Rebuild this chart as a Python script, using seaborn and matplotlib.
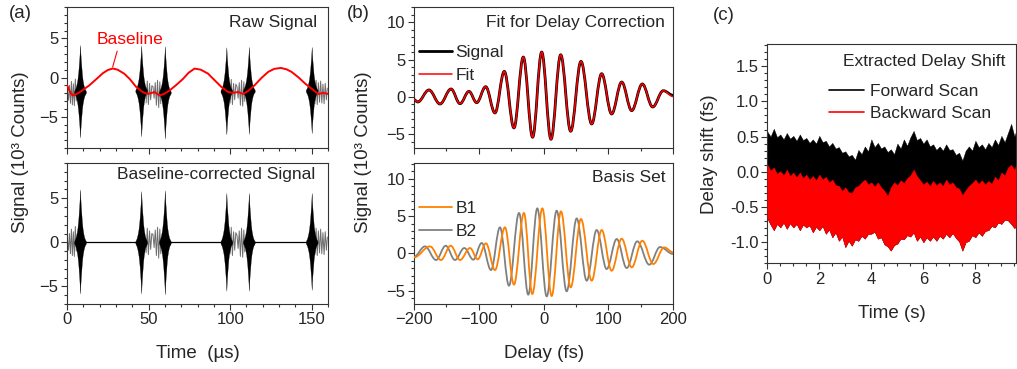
import numpy as np
import matplotlib
matplotlib.use("Agg")
import matplotlib.pyplot as plt
import seaborn as sns
from matplotlib.path import Path
from matplotlib.patches import PathPatch
from matplotlib.lines import Line2D
from matplotlib.ticker import MultipleLocator, FormatStrFormatter

# ---------------- Panel (a) data ----------------
baseline_t = [0, 1.5, 3.4, 6, 9, 13.7, 18, 22, 25, 28, 31, 35, 38.5, 42.4, 46, 49, 51.5,
              53.7, 56.7, 59.5, 62.9, 67, 71, 74.5, 78.2, 82, 86.4, 90.5, 94.6, 98.7,
              101.8, 104.9, 108, 111, 115.1, 119, 123.3, 127, 131.1, 134.5, 137.7, 142,
              145.9, 151, 154, 157.1, 160]
baseline_y = [-0.95, -1.7, -2.3, -2.1, -1.7, -1.0, -0.2, 0.55, 0.95, 1.15, 1.0, 0.5, -0.2,
              -1.2, -1.8, -2.1, -2.0, -1.85, -2.3, -2.1, -1.65, -0.95, -0.2, 0.6, 1.14,
              1.0, 0.5, -0.35, -1.2, -1.85, -1.96, -1.85, -2.1, -1.73, -0.97, -0.1, 0.71,
              1.1, 1.22, 1.05, 0.71, 0.0, -0.76, -1.6, -2.1, -1.96, -2.1]

burst_center = [8.0, 45.5, 60.0, 97.7, 111.5, 150.0]
burst_top = [6.0, 5.8, 5.9, 5.6, 5.6, 5.6]
burst_bottom = [-5.8, -5.8, -5.9, -5.5, -5.5, -5.4]
burst_raw_offset = [-1.85, -1.7, -1.9, -1.75, -1.7, -1.7]
burst_shape_dt = [-3.6, -2.8, -2.4, -2.0, -1.6, -1.2, -0.95, -0.65, -0.4, -0.2, 0.0,
                  0.2, 0.4, 0.65, 0.95, 1.2, 1.6, 2.0, 2.4, 2.8, 3.6]
burst_shape = [0.02, 0.08, 0.13, 0.19, 0.27, 0.39, 0.48, 0.62, 0.74, 0.86, 1.0,
               0.84, 0.72, 0.6, 0.47, 0.36, 0.25, 0.17, 0.11, 0.07, 0.02]

wing1_t = [0.3, 0.9, 1.5, 2.1, 2.7, 3.3, 3.9, 4.5, 5.1, 5.7]
wing1_y = [0.3, -0.9, 1.0, -1.3, 1.5, -1.5, 1.2, -1.6, 1.8, -1.0]
wing2_t = [48.5, 49.2, 49.9, 50.6, 51.3, 52.0, 52.7, 53.4, 54.1, 54.8, 55.5, 56.2, 56.9, 57.5]
wing2_y = [-1.2, 1.6, -1.4, 1.3, -0.8, 1.0, 0.9, -0.6, 1.4, -1.5, 1.7, -1.8, 1.5, -1.3]
wing3_t = [100.0, 100.7, 101.4, 102.1, 102.8, 103.5, 104.2, 104.9, 105.6, 106.3, 107.0, 107.7, 108.4, 109.0]
wing3_y = [-1.3, 1.7, -1.5, 1.2, -0.9, 1.1, 0.8, -0.7, 1.3, -1.6, 1.6, -1.7, 1.4, -1.1]
wing4_t = [152.0, 152.7, 153.4, 154.1, 154.8, 155.5, 156.2, 156.9, 157.6, 158.3, 159.0, 159.6]
wing4_y = [-1.4, 1.6, -1.5, 1.3, -1.2, 1.5, -1.3, 1.1, -1.4, 1.2, -0.9, 0.6]
wing_raw_offset = [-2.0, -2.05, -1.95, -1.95]
flat_start = [5.7, 57.5, 109.0]
flat_end = [48.5, 100.0, 152.0]

# ---------------- Panel (b) data ----------------
signal_delay = [-200, -194.3, -176.9, -159.9, -142.9, -129.0, -115.2, -103.3, -89.4, -75.1,
                -60.7, -45.8, -31.4, -17.0, -3.0, 11.3, 26.3, 41.7, 57.6, 74.1, 89.5, 104.9,
                120.4, 135.8, 152.2, 168.2, 184.5, 200]
signal_value = [-0.36, -0.67, 0.94, -0.94, 1.07, -0.9, 0.75, -0.76, 1.38, -2.14, 3.43, -4.15,
                5.35, -5.4, 6.02, -5.67, 5.66, -4.6, 4.77, -3.62, 3.12, -2.28, 2.0, -1.83,
                1.74, -1.34, 0.84, 0.21]
fit_value = [-0.36, -0.67, 0.94, -0.94, 1.07, -0.9, 0.75, -0.76, 1.38, -2.14, 3.43, -4.15,
             5.35, -5.4, 6.02, -5.67, 5.66, -4.6, 4.77, -3.62, 3.12, -2.28, 2.0, -1.83,
             1.74, -1.34, 0.84, 0.05]
b1_delay = [-200, -175.3, -158.4, -143.4, -129.0, -113.6, -101.8, -89.0, -75.1, -59.7, -45.8,
            -30.4, -17.5, -2.0, 12.4, 26.7, 41.7, 57.6, 74.1, 89.5, 104.9, 120.4, 135.8,
            152.2, 169.2, 186.0, 200]
b1_value = [-0.54, 0.94, -0.89, 1.03, -0.89, 0.72, -0.8, 1.35, -2.24, 3.5, -4.2, 5.43, -5.46,
            6.05, -5.73, 5.65, -4.57, 4.62, -3.67, 3.14, -2.33, 1.97, -1.88, 1.7, -1.43, 0.8, 0.13]
b2_delay = [-200, -183.0, -166.0, -151.1, -136.8, -122.4, -108.5, -95.6, -81.2, -67.4, -53.5,
            -38.0, -23.7, -9.8, 4.7, 20.1, 35.5, 51.0, 66.4, 81.8, 97.2, 112.7, 128.1, 144.4,
            163.0, 179.5, 200]
b2_value = [-0.45, 0.94, -0.89, 1.03, -0.89, 0.72, -0.85, 1.4, -2.24, 3.5, -4.34, 5.43, -5.55,
            6.05, -5.78, 5.74, -5.1, 4.7, -3.67, 3.14, -2.1, 1.93, -1.97, 1.62, -1.52, 0.85, -0.09]

# ---------------- Panel (c) data (sampled every 0.125 s) ----------------
shift_time = list(np.arange(0, 9.51, 0.125)) + [9.55]
forward_top = [0.57, 0.50, 0.61, 0.49, 0.53, 0.46, 0.55, 0.47,
               0.51, 0.44, 0.53, 0.45, 0.48, 0.41, 0.46, 0.40,
               0.51, 0.42, 0.44, 0.36, 0.41, 0.33, 0.35, 0.27,
               0.29, 0.22, 0.24, 0.17, 0.31, 0.25, 0.36, 0.29,
               0.46, 0.35, 0.41, 0.33, 0.36, 0.28, 0.32, 0.25,
               0.40, 0.33, 0.46, 0.37, 0.49, 0.58, 0.45, 0.48,
               0.40, 0.46, 0.36, 0.39, 0.31, 0.36, 0.30, 0.39,
               0.31, 0.32, 0.24, 0.27, 0.16, 0.30, 0.36, 0.30,
               0.44, 0.35, 0.39, 0.32, 0.41, 0.35, 0.46, 0.38,
               0.51, 0.42, 0.55, 0.68, 0.50, 0.56]
backward_top = [0.10, 0.02, 0.06, -0.03, 0.01, -0.05, 0.03, -0.06,
                -0.01, -0.08, -0.01, -0.09, -0.04, -0.11, -0.06, -0.12,
                -0.04, -0.11, -0.07, -0.15, -0.11, -0.19, -0.20, -0.27,
                -0.22, -0.29, -0.30, -0.22, -0.20, -0.15, -0.11, -0.18,
                -0.15, -0.21, -0.15, -0.22, -0.27, -0.34, -0.22, -0.15,
                -0.19, -0.12, -0.16, -0.09, -0.05, 0.03, -0.06, -0.12,
                -0.18, -0.14, -0.20, -0.13, -0.19, -0.15, -0.20, -0.11,
                -0.18, -0.15, -0.22, -0.24, -0.33, -0.26, -0.20, -0.16,
                -0.11, -0.17, -0.12, -0.18, -0.13, -0.17, -0.07, -0.12,
                -0.01, -0.05, 0.06, 0.10, 0.03, 0.08]
backward_bottom = [-0.66, -0.75, -0.83, -0.74, -0.79, -0.72, -0.81, -0.73,
                   -0.79, -0.74, -0.83, -0.75, -0.79, -0.76, -0.86, -0.78,
                   -0.83, -0.77, -0.88, -0.82, -0.93, -0.86, -0.98, -0.92,
                   -1.07, -0.98, -1.05, -0.96, -0.98, -0.91, -0.95, -0.88,
                   -0.88, -0.85, -0.95, -0.93, -1.03, -1.06, -1.12, -1.04,
                   -1.02, -0.95, -0.96, -0.90, -0.92, -0.86, -0.98, -0.92,
                   -1.00, -0.93, -0.98, -0.92, -0.98, -0.91, -0.95, -0.88,
                   -0.93, -0.87, -0.94, -0.99, -1.12, -1.00, -0.98, -0.90,
                   -0.93, -0.86, -0.91, -0.84, -0.83, -0.77, -0.79, -0.72,
                   -0.74, -0.68, -0.69, -0.74, -0.80, -0.77]

# ---------------- style ----------------
sns.set_theme(style="ticks")
plt.rcParams['font.family'] = ['Liberation Sans', 'DejaVu Sans']
plt.rcParams['axes.edgecolor'] = '#333333'
plt.rcParams['axes.linewidth'] = 0.8

TICK = 12
LAB = 13.5
ANN = 12.5

fig = plt.figure(figsize=(10.17, 3.69), dpi=100)
W, H = 1017.0, 369.0


def add_ax(l, r, t, b):
    return fig.add_axes([l / W, 1 - b / H, (r - l) / W, (b - t) / H])


def style_ax(ax, xmaj, xmin, ymaj, ymin, xlabels=True):
    ax.xaxis.set_major_locator(MultipleLocator(xmaj))
    ax.xaxis.set_minor_locator(MultipleLocator(xmin))
    ax.yaxis.set_major_locator(MultipleLocator(ymaj))
    ax.yaxis.set_minor_locator(MultipleLocator(ymin))
    ax.tick_params(which='both', direction='out', top=False, right=False,
                   width=0.8, color='#333333', labelsize=TICK, pad=2)
    ax.tick_params(which='major', length=4)
    ax.tick_params(which='minor', length=2.2)
    if not xlabels:
        ax.tick_params(axis='x', labelbottom=False)
    for s in ax.spines.values():
        s.set_visible(True)


def smooth_path(xs, ys, k=0.3634):
    verts = [(xs[0], ys[0])]
    codes = [Path.MOVETO]
    for i in range(1, len(xs)):
        x0, y0, x1, y1 = xs[i - 1], ys[i - 1], xs[i], ys[i]
        dx = x1 - x0
        verts += [(x0 + k * dx, y0), (x1 - k * dx, y1), (x1, y1)]
        codes += [Path.CURVE4] * 3
    return Path(verts, codes)


def draw_smooth(ax, xs, ys, color, lw, z):
    ax.add_patch(PathPatch(smooth_path(xs, ys), fill=False, edgecolor=color, lw=lw,
                           zorder=z, capstyle='round', joinstyle='round'))


wings = [(wing1_t, wing1_y), (wing2_t, wing2_y), (wing3_t, wing3_y), (wing4_t, wing4_y)]
dt = np.array(burst_shape_dt)
shape = np.array(burst_shape)

# ---------------- Panel (a) top: raw ----------------
ax1 = add_ax(67, 328, 7, 148)
for (wt, wy), off in zip(wings, wing_raw_offset):
    sns.lineplot(x=wt, y=np.array(wy) + off, ax=ax1, color='#6e6e6e', lw=0.7,
                 estimator=None, sort=False)
for c, tp, bt, off in zip(burst_center, burst_top, burst_bottom, burst_raw_offset):
    ax1.fill_between(dt + c, off + bt * shape, off + tp * shape, color='black', lw=0.2,
                     edgecolor='black', zorder=3)
sns.lineplot(x=baseline_t, y=baseline_y, ax=ax1, color='#ff0000', lw=1.4,
             estimator=None, sort=False, zorder=5)
ax1.annotate("Baseline", xy=(28, 1.35), xytext=(38.5, 4.9), color='#ff0000', fontsize=ANN,
             ha='center', va='center',
             arrowprops=dict(arrowstyle='-', color='#ff0000', lw=0.8, relpos=(0.33, 0.0),
                             shrinkA=1, shrinkB=0))
ax1.text(0.958, 0.89, "Raw Signal", transform=ax1.transAxes, ha='right', va='center',
         fontsize=ANN)
ax1.set_xlim(0, 160)
ax1.set_ylim(-9, 9)
style_ax(ax1, 50, 10, 5, 1, xlabels=False)
ax1.set_xlabel("")
ax1.set_ylabel("")

# ---------------- Panel (a) bottom: corrected ----------------
ax2 = add_ax(67, 328, 163, 304)
for s0, s1 in zip(flat_start, flat_end):
    sns.lineplot(x=[s0, s1], y=[0, 0], ax=ax2, color='black', lw=0.9, estimator=None)
for wt, wy in wings:
    sns.lineplot(x=wt, y=wy, ax=ax2, color='#6e6e6e', lw=0.7, estimator=None, sort=False)
for c, tp, bt in zip(burst_center, burst_top, burst_bottom):
    ax2.fill_between(dt + c, bt * shape, tp * shape, color='black', lw=0.2,
                     edgecolor='black', zorder=3)
ax2.text(0.95, 0.915, "Baseline-corrected Signal", transform=ax2.transAxes, ha='right',
         va='center', fontsize=ANN)
ax2.set_xlim(0, 160)
ax2.set_ylim(-7, 9)
style_ax(ax2, 50, 10, 5, 1)
ax2.set_xlabel("Time  (µs)", fontsize=LAB, labelpad=13)
ax2.set_ylabel("")

# ---------------- Panel (b) top ----------------
ax3 = add_ax(414, 673.3, 6.7, 147.7)
draw_smooth(ax3, signal_delay, signal_value, 'black', 2.0, 3)
draw_smooth(ax3, signal_delay, fit_value, '#ff0000', 1.1, 4)
ax3.set_xlim(-200, 200)
ax3.set_ylim(-6.8, 12.1)
style_ax(ax3, 100, 50, 5, 1, xlabels=False)
ax3.text(0.968, 0.887, "Fit for Delay Correction", transform=ax3.transAxes, ha='right',
         va='center', fontsize=ANN)
h3 = [Line2D([], [], color='black', lw=2.0), Line2D([], [], color='#ff0000', lw=1.1)]
ax3.legend(h3, ["Signal", "Fit"], loc='upper left', bbox_to_anchor=(0.02, 0.73),
           frameon=False, fontsize=ANN, handlelength=1.9, handletextpad=0.2,
           labelspacing=0.45, borderpad=0, borderaxespad=0)

# ---------------- Panel (b) bottom ----------------
ax4 = add_ax(414, 673.3, 163.3, 304)
draw_smooth(ax4, b2_delay, b2_value, '#808080', 1.3, 3)
draw_smooth(ax4, b1_delay, b1_value, '#ff8000', 1.3, 4)
ax4.set_xlim(-200, 200)
ax4.set_ylim(-6.8, 12.1)
style_ax(ax4, 100, 50, 5, 1)
ax4.text(0.968, 0.9, "Basis Set", transform=ax4.transAxes, ha='right', va='center',
         fontsize=ANN)
h4 = [Line2D([], [], color='#ff8000', lw=1.3), Line2D([], [], color='#808080', lw=1.3)]
ax4.legend(h4, ["B1", "B2"], loc='upper left', bbox_to_anchor=(0.02, 0.735),
           frameon=False, fontsize=ANN, handlelength=1.9, handletextpad=0.2,
           labelspacing=0.45, borderpad=0, borderaxespad=0)
ax4.set_xlabel("Delay (fs)", fontsize=LAB, labelpad=13)

# ---------------- Panel (c) ----------------
ax5 = add_ax(767.3, 1015.7, 44.3, 263.3)
ax5.fill_between(shift_time, backward_bottom, forward_top, color='black', lw=0.3,
                 edgecolor='black', zorder=2)
ax5.fill_between(shift_time, backward_bottom, backward_top, color='#ff0000', lw=0.3,
                 edgecolor='#ff0000', zorder=3)
ax5.set_xlim(0, 9.55)
ax5.set_ylim(-1.3, 1.81)
style_ax(ax5, 2, 0.5, 0.5, 0.1)
ax5.yaxis.set_major_formatter(FormatStrFormatter('%.1f'))
ax5.text(0.957, 0.92, "Extracted Delay Shift", transform=ax5.transAxes, ha='right',
         va='center', fontsize=ANN)
h5 = [Line2D([], [], color='black', lw=1.2), Line2D([], [], color='#ff0000', lw=1.2)]
ax5.legend(h5, ["Forward Scan", "Backward Scan"], loc='upper left',
           bbox_to_anchor=(0.25, 0.82), frameon=False, fontsize=ANN, handlelength=2.0,
           handletextpad=0.35, labelspacing=0.38, borderpad=0, borderaxespad=0)
ax5.set_xlabel("Time (s)", fontsize=LAB, labelpad=13)
ax5.set_ylabel("Delay shift (fs)", fontsize=LAB, labelpad=9)

# ---------------- shared labels ----------------
fig.text(21 / W, 1 - 152 / H, "Signal (10³ Counts)", rotation=90, ha='center', va='center',
         fontsize=LAB)
fig.text(364 / W, 1 - 152 / H, "Signal (10³ Counts)", rotation=90, ha='center', va='center',
         fontsize=LAB)
fig.text(20 / W, 1 - 14 / H, "(a)", ha='center', va='center', fontsize=LAB)
fig.text(358 / W, 1 - 14 / H, "(b)", ha='center', va='center', fontsize=LAB)
fig.text(724 / W, 1 - 15 / H, "(c)", ha='center', va='center', fontsize=LAB)

fig.savefig("out.png", dpi=100)
